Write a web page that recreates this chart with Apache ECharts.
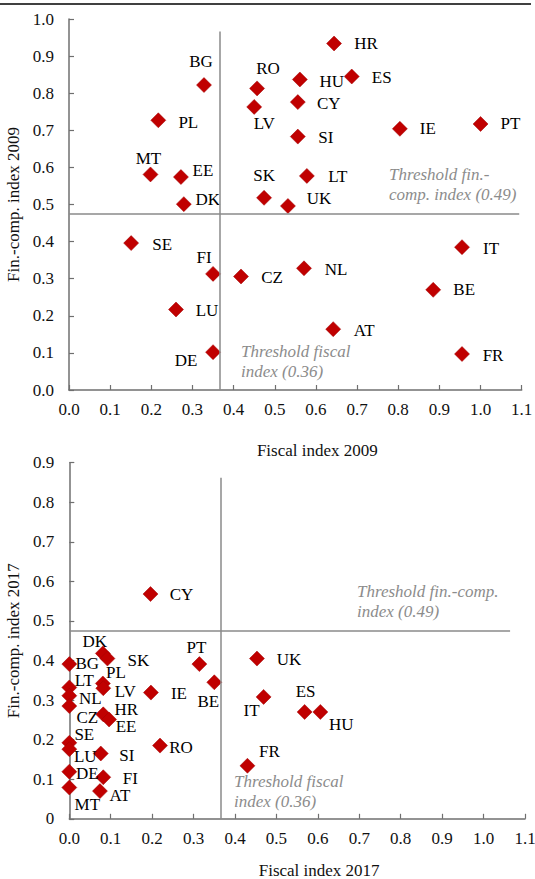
<!DOCTYPE html>
<html>
<head>
<meta charset="utf-8">
<title>Fiscal and financial-competitiveness indices, 2009 and 2017</title>
<script src="https://cdn.jsdelivr.net/npm/echarts@6/dist/echarts.min.js"></script>
<style>
  html, body { margin: 0; padding: 0; background: #ffffff; }
  #chart { width: 535px; height: 879px; }
</style>
</head>
<body>
<div id="chart"></div>
<script>
// ---- 2009 panel ----
const countries2009 = ['HR','ES','HU','BG','RO','LV','CY','PL','IE','PT','SI','MT','EE','LT','SK','DK','UK','SE','IT','NL','FI','CZ','BE','LU','AT','DE','FR'];
const fiscal2009    = [0.644,0.687,0.561,0.328,0.457,0.450,0.556,0.217,0.804,1.000,0.556,0.198,0.272,0.578,0.474,0.279,0.532,0.151,0.955,0.571,0.350,0.418,0.885,0.260,0.642,0.350,0.955];
const finComp2009   = [0.934,0.845,0.837,0.822,0.813,0.763,0.776,0.727,0.704,0.717,0.683,0.581,0.574,0.577,0.518,0.501,0.496,0.396,0.385,0.328,0.313,0.306,0.270,0.217,0.164,0.102,0.097];

// ---- 2017 panel ----
const countries2017 = ['CY','DK','SK','BG','PL','LV','LT','NL','CZ','IE','HR','EE','SE','LU','SI','RO','DE','FI','MT','AT','PT','BE','UK','IT','ES','HU','FR'];
const fiscal2017    = [0.196,0.081,0.092,0.000,0.081,0.082,0.000,0.000,0.000,0.197,0.082,0.096,0.000,0.000,0.076,0.219,0.000,0.082,0.000,0.074,0.314,0.350,0.453,0.469,0.568,0.606,0.430];
const finComp2017   = [0.568,0.418,0.405,0.391,0.342,0.330,0.332,0.311,0.285,0.319,0.264,0.251,0.192,0.176,0.165,0.185,0.119,0.105,0.079,0.070,0.391,0.345,0.405,0.308,0.270,0.270,0.134];

// Threshold lines as drawn
const fiscalThreshold = 0.366;
const finCompThreshold = 0.475;
const thresholdText = {
  finComp2009: 'Threshold fin.-\ncomp. index (0.49)',
  fiscal2009: 'Threshold fiscal\nindex (0.36)',
  finComp2017: 'Threshold fin.-comp.\nindex (0.49)',
  fiscal2017: 'Threshold fiscal\nindex (0.36)'
};
const axisTitles = {
  x2009: 'Fiscal index 2009', y2009: 'Fin.-comp. index 2009',
  x2017: 'Fiscal index 2017', y2017: 'Fin.-comp. index 2017'
};

// Label placement: offset of each country label centre from its marker (px)
const labelShift2009 = [[32,0],[30,1],[32,2],[-3,-24],[11,-20],[10,17],[31,1],[30,2],[28,0],[30,0],[28,1],[-2,-16],[22,-7],[31,1],[0,-22],[24,-5],[31,-7],[31,1],[29,1],[32,1],[-9,-16],[31,1],[31,0],[31,1],[31,1],[-27,8],[31,1]];
const labelShift2017 = [[31,0],[-8,-12],[31,2],[18,-1],[13,-11],[22,3],[15,-7],[21,3],[18,11],[28,1],[23,-5],[17,7],[15,-8],[16,7],[26,2],[21,2],[18,2],[27,1],[18,17],[20,4],[-3,-17],[-6,19],[32,1],[-12,14],[1,-20],[21,13],[22,-14]];

const FONT = '"Liberation Serif", "Times New Roman", serif';
const AXIS_GREY = '#6f6f6f';
const LINE_GREY = '#8a8a8a';
const RED = '#c00000';

function points(names, xs, ys, shifts) {
  return names.map((n, i) => ({
    name: n,
    value: [xs[i], ys[i]],
    label: { offset: shifts[i] }
  }));
}

function xAxisFor(gridIndex, title, gap) {
  return {
    type: 'value', gridIndex, min: 0, max: 1.1, interval: 0.1,
    splitLine: { show: false },
    axisLine: { show: true, onZero: false, lineStyle: { color: AXIS_GREY, width: 1.5 } },
    axisTick: { show: true, inside: true, length: 5, lineStyle: { color: AXIS_GREY, width: 1.2 } },
    axisLabel: { margin: 11, color: '#111', fontFamily: FONT, fontSize: 17,
                 formatter: v => v.toFixed(1) },
    name: title, nameLocation: 'middle', nameGap: gap,
    nameTextStyle: { color: '#111', fontFamily: FONT, fontSize: 17, padding: [0, 0, 0, 44] }
  };
}

function yAxisFor(gridIndex, max, title, zeroLabel, gap) {
  return {
    type: 'value', gridIndex, min: 0, max, interval: 0.1,
    splitLine: { show: false },
    axisLine: { show: true, onZero: false, lineStyle: { color: AXIS_GREY, width: 1.5 } },
    axisTick: { show: true, inside: true, length: 5, lineStyle: { color: AXIS_GREY, width: 1.2 } },
    axisLabel: { margin: 15, color: '#111', fontFamily: FONT, fontSize: 17,
                 formatter: v => (v === 0 ? zeroLabel : v.toFixed(1)) },
    name: title, nameLocation: 'middle', nameGap: gap, nameRotate: 90,
    nameTextStyle: { color: '#111', fontFamily: FONT, fontSize: 17 }
  };
}

function thresholdLines(xEnd, yEnd) {
  return {
    silent: true, symbol: 'none', animation: false,
    label: { show: false },
    lineStyle: { color: LINE_GREY, width: 1.5, type: 'solid' },
    data: [
      [{ coord: [0, finCompThreshold] }, { coord: [xEnd, finCompThreshold] }],
      [{ coord: [fiscalThreshold, 0] }, { coord: [fiscalThreshold, yEnd] }]
    ]
  };
}

function scatterSeries(idx, data, lines) {
  return {
    type: 'scatter', xAxisIndex: idx, yAxisIndex: idx,
    symbol: 'diamond', symbolSize: 15,
    itemStyle: { color: RED, opacity: 1, borderColor: '#a00000', borderWidth: 0.5 },
    label: {
      show: true, position: 'inside', formatter: '{b}',
      align: 'center', verticalAlign: 'middle', lineHeight: 13,
      color: '#000', fontFamily: FONT, fontSize: 17
    },
    emphasis: { disabled: true },
    animation: false,
    data,
    markLine: lines,
    z: 3
  };
}

function note(text, left, top) {
  return {
    type: 'text', left, top, silent: true,
    style: { text, fill: '#8c8c8c', font: 'italic 17px ' + FONT, lineHeight: 20 }
  };
}

const chart = echarts.init(document.getElementById('chart'), null, { renderer: 'svg' });
chart.setOption({
  backgroundColor: '#ffffff',
  animation: false,
  grid: [
    { left: 69, top: 19, width: 452.7, height: 371, containLabel: false, outerBoundsMode: 'none' },
    { left: 69.3, top: 462.7, width: 455.7, height: 356.1, containLabel: false, outerBoundsMode: 'none' }
  ],
  xAxis: [xAxisFor(0, axisTitles.x2009, 52), xAxisFor(1, axisTitles.x2017, 43)],
  yAxis: [yAxisFor(0, 1.0, axisTitles.y2009, '0.0', 37), yAxisFor(1, 0.9, axisTitles.y2017, '0', 34)],
  series: [
    scatterSeries(0, points(countries2009, fiscal2009, finComp2009, labelShift2009), thresholdLines(1.094, 0.966)),
    scatterSeries(1, points(countries2017, fiscal2017, finComp2017, labelShift2017), thresholdLines(1.064, 0.862))
  ],
  graphic: [
    { type: 'line', silent: true, shape: { x1: 0, y1: 4, x2: 531, y2: 4 },
      style: { stroke: '#000', lineWidth: 1.5 } },
    note(thresholdText.finComp2009, 389, 164),
    note(thresholdText.fiscal2009, 241, 341),
    note(thresholdText.finComp2017, 357, 581),
    note(thresholdText.fiscal2017, 234, 771)
  ]
});
</script>
</body>
</html>
